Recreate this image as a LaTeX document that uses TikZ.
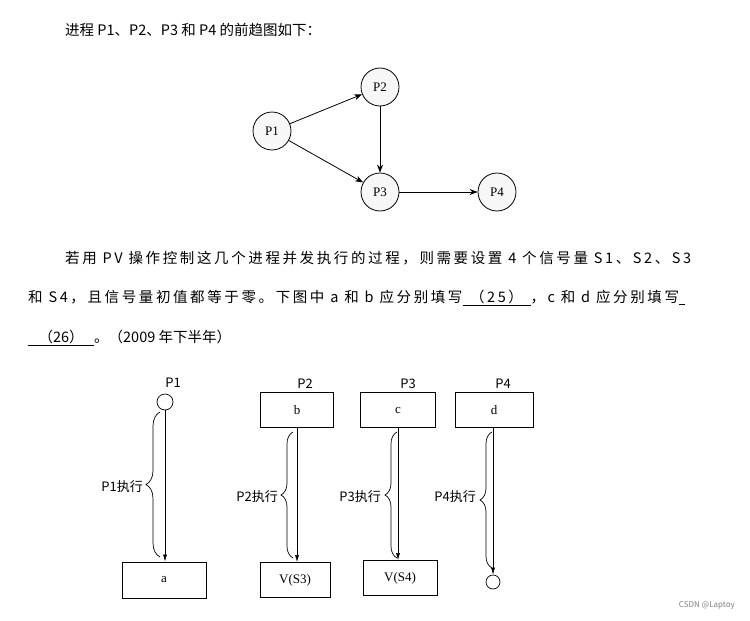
\documentclass[tikz,border=0pt]{standalone}
\usepackage{fontspec}
\setmainfont{Liberation Serif}
\newfontfamily\cjk{Noto Sans CJK SC}
\newfontfamily\cjkw[LetterSpace=18]{Noto Sans CJK SC}
\usetikzlibrary{arrows.meta,decorations.pathreplacing}
\begin{document}
\begin{tikzpicture}[x=1pt,y=-1pt,
  txt/.style={anchor=west,inner sep=0,font=\cjk\fontsize{14.5}{16}\selectfont},
  txtw/.style={anchor=west,inner sep=0,font=\cjkw\fontsize{14.5}{16}\selectfont},
  pc/.style={draw,circle,minimum size=38,inner sep=0,font=\fontsize{13}{14}\selectfont,line width=0.8pt,fill=gray!6},
  arr/.style={-{Stealth[length=8,width=6]},line width=0.8pt},
  box/.style={draw,rectangle,inner sep=0,line width=0.8pt,font=\fontsize{13}{14}\selectfont},
  sc/.style={draw,circle,inner sep=0,line width=0.7pt},
  lab/.style={font=\cjk\fontsize{13}{14}\selectfont,inner sep=0},
  br/.style={decorate,decoration={brace,amplitude=#1},line width=0.7pt},
  ar2/.style={-{Latex[length=7,width=4]},line width=0.6pt}]
\useasboundingbox (0,0) rectangle (750,621);
% text
\node[txt] (t1) at (65,30) {进程 P1、P2、P3 和 P4 的前趋图如下：};
\node[txtw] (t2) at (65,258) {若用 PV 操作控制这几个进程并发执行的过程，则需要设置 4 个信号量 S1、S2、S3};
\node[txtw] (t3) at (28,298) {和 S4，且信号量初值都等于零。下图中 a 和 b 应分别填写\underline{\makebox[68pt]{（25）}}，c 和 d 应分别填写\underline{\makebox[6pt]{}}};
\node[txt] (t4) at (28,338) {\underline{\makebox[66pt]{（26）}}。（2009 年下半年）};
% precedence graph
\node[pc] (P1) at (272,131) {P1};
\node[pc] (P2) at (380,87) {P2};
\node[pc] (P3) at (380,192) {P3};
\node[pc] (P4) at (497,192) {P4};
\draw[arr] (P1) -- (P2);
\draw[arr] (P1) -- (P3);
\draw[arr] (P2) -- (P3);
\draw[arr] (P3) -- (P4);
% bottom diagram
\node[lab] (l1) at (173,383) {P1};
\node[lab] (l2) at (305,384) {P2};
\node[lab] (l3) at (408,384) {P3};
\node[lab] (l4) at (503,384) {P4};
\node[sc,minimum size=16] (c1) at (165,402) {};
\node[box,minimum width=84,minimum height=36] (a) at (164,580) {a};
\draw[ar2] (c1) -- (a.north -| c1);
\draw[br=14] (160,557) -- (160,412);
\node[lab,anchor=east] (e1) at (143,487) {P1执行};

\node[box,minimum width=73,minimum height=35] (b) at (297,410) {b};
\node[box,minimum width=70,minimum height=35] (v3) at (295,580) {V(S3)};
\draw[ar2] (b.south) -- (b.south |- v3.north);
\draw[br=12] (293,558) -- (293,432);
\node[lab,anchor=east] (e2) at (278,497) {P2执行};

\node[box,minimum width=75,minimum height=35] (c) at (398,410) {c};
\node[box,minimum width=74,minimum height=35] (v4) at (400,578) {V(S4)};
\draw[ar2] (c.south) -- (c.south |- v4.north);
\draw[br=12] (397,558) -- (397,432);
\node[lab,anchor=east] (e3) at (381,497) {P3执行};

\node[box,minimum width=78,minimum height=35] (d) at (494,410) {d};
\node[sc,minimum size=14] (c4) at (493,582) {};
\draw[ar2] (d.south -| c4) -- (c4);
\draw[br=12] (492,568) -- (492,432);
\node[lab,anchor=east] (e4) at (476,497) {P4执行};

\node[anchor=east,inner sep=0,font=\cjk\fontsize{8}{9}\selectfont,text=gray] (w) at (735,605) {CSDN @Laptoy};
\end{tikzpicture}
\end{document}
